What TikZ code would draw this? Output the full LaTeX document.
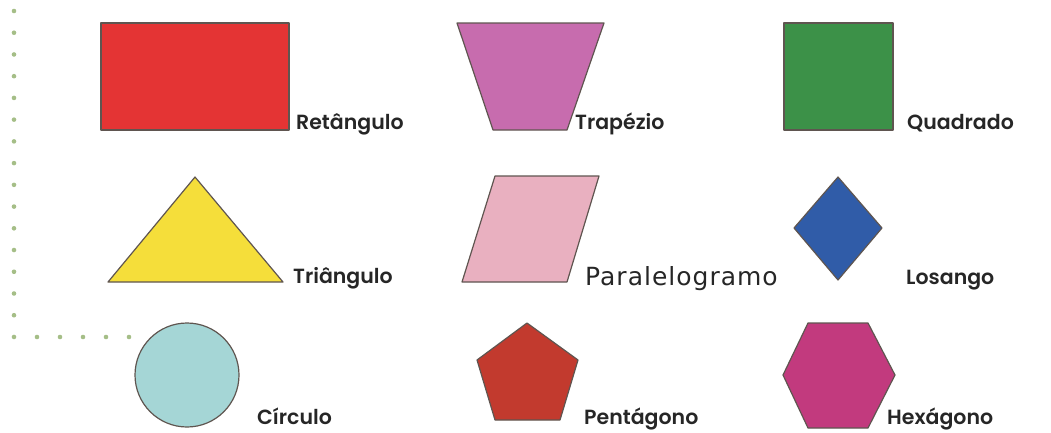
\documentclass[tikz,border=0pt]{standalone}
\usepackage{fontspec}
\setmainfont{Poppins}[BoldFont={Poppins SemiBold}]
\newfontfamily\plainlabel{DejaVu Sans}[LetterSpace=4]
\usepackage{tikz}
\usetikzlibrary{positioning}
\definecolor{dotgreen}{RGB}{165,190,135}
\definecolor{edgegray}{RGB}{95,85,80}
\definecolor{retred}{RGB}{228,52,52}
\definecolor{trapmauve}{RGB}{199,108,174}
\definecolor{quadgreen}{RGB}{60,145,72}
\definecolor{triyellow}{RGB}{245,222,58}
\definecolor{parapink}{RGB}{233,176,192}
\definecolor{losblue}{RGB}{48,92,168}
\definecolor{circcyan}{RGB}{165,214,214}
\definecolor{pentred}{RGB}{194,58,46}
\definecolor{hexmagenta}{RGB}{194,58,126}

\begin{document}
\begin{tikzpicture}[x=1pt, y=-1pt,
  shapefill/.style={draw=edgegray, line width=1.2pt, line join=round},
  namelabel/.style={anchor=base west, inner sep=0pt, font=\fontsize{20.5}{24}\selectfont\bfseries, text=black!85},
  gdot/.style={fill=dotgreen, draw=none}]
\useasboundingbox (0,0) rectangle (1051,432);
% dotted corner
\foreach \k in {0,...,15} \fill[gdot] (14,11+21.73*\k) circle (2.3pt);
\foreach \k in {1,...,5} \fill[gdot] (14+23*\k,337) circle (2.3pt);
% first row
\draw[shapefill, fill=retred] (101,23) rectangle (289,130);
\node[namelabel] (retangulo) at (296,129) {Retângulo};
\draw[shapefill, fill=trapmauve] (457,23) -- (604,23) -- (567,130) -- (493,130) -- cycle;
\node[namelabel] (trapezio) at (575,129) {Trapézio};
\draw[shapefill, fill=quadgreen] (784,23) rectangle (893,130);
\node[namelabel] (quadrado) at (907,129) {Quadrado};
% second row
\draw[shapefill, fill=triyellow] (195,177) -- (283,282) -- (108,282) -- cycle;
\node[namelabel] (triangulo) at (293,283) {Triângulo};
\draw[shapefill, fill=parapink] (495,176) -- (599,176) -- (567,282) -- (462,282) -- cycle;
\node[anchor=base west, inner sep=0pt, font=\plainlabel\fontsize{25}{30}\selectfont, text=black!85] (paralelogramo) at (585,285) {Paralelogramo};
\draw[shapefill, fill=losblue] (838,177) -- (882,228) -- (838,280) -- (794,228) -- cycle;
\node[namelabel] (losango) at (906,284) {Losango};
% third row
\draw[shapefill, fill=circcyan] (187,375) circle (52);
\node[namelabel] (circulo) at (257,424) {Círculo};
\draw[shapefill, fill=pentred] (527,323) -- (578,360) -- (560,420) -- (495,420) -- (477,360) -- cycle;
\node[namelabel] (pentagono) at (584,424) {Pentágono};
\draw[shapefill, fill=hexmagenta] (808,323) -- (868,323) -- (895,375) -- (868,428) -- (808,428) -- (783,375) -- cycle;
\node[namelabel] (hexagono) at (887,424) {Hexágono};
\end{tikzpicture}
\end{document}
